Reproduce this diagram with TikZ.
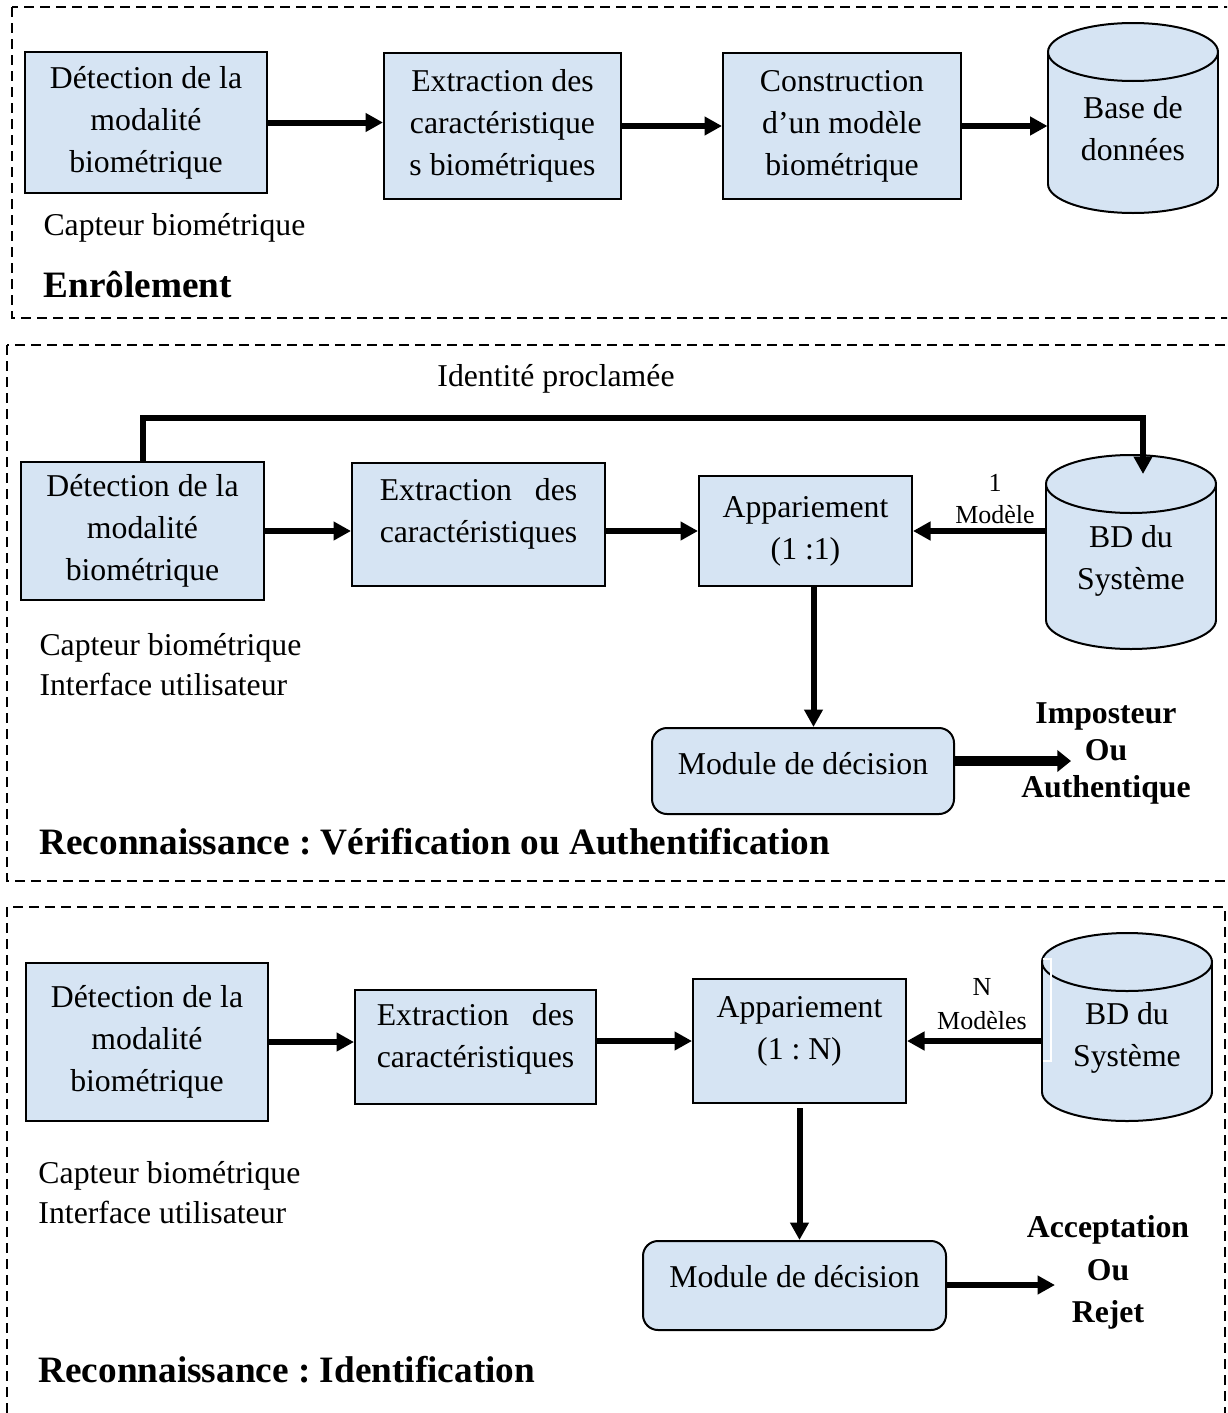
\documentclass[tikz,border=0pt]{standalone}
\usepackage{fontspec}
\setmainfont{Liberation Serif}
\usepackage{xcolor}
\usetikzlibrary{arrows.meta}
\frenchspacing
\definecolor{fondbleu}{RGB}{214,228,243}
\newcommand{\pxl}{0.4pt}
\newcommand{\bas}[1]{\rule[-#1]{0pt}{0pt}}
% base de donnees : x centre, y ellipse haut, y ellipse bas
\newcommand{\cylindre}[3]{%
  \draw[trait, fill=fondbleu] (#1,#3) ellipse [x radius=85, y radius=29];
  \fill[fondbleu] (#1-85,#2) rectangle (#1+85,#3);
  \draw[trait] (#1-85,#2) -- (#1-85,#3) (#1+85,#2) -- (#1+85,#3);
  \draw[trait, fill=fondbleu] (#1,#2) ellipse [x radius=85, y radius=29];
}
\tikzset{
  trait/.style={line width=0.8pt, black},
  boite/.style={trait, draw, fill=fondbleu, align=center, inner sep=0pt,
    font=\fontsize{12.7}{16.8}\selectfont},
  decision/.style={boite, rounded corners=6pt},
  bdtexte/.style={align=center, inner sep=0pt, minimum width=170*\pxl,
    font=\fontsize{12.7}{16.8}\selectfont},
  texte/.style={inner sep=0pt, font=\fontsize{12.7}{14.4}\selectfont},
  petit/.style={inner sep=0pt, font=\fontsize{10.4}{12}\selectfont},
  titre/.style={inner sep=0pt, anchor=west, font=\fontsize{14.9}{17}\selectfont\bfseries},
  fleche/.style={line width=2.4pt, -{Triangle[length=7pt,width=7.2pt]}},
  flechegrosse/.style={line width=4pt, -{Triangle[length=5.5pt,width=8.5pt]}},
  cadre/.style={line width=0.8pt, dash pattern=on 4pt off 2.4pt},
}

\begin{document}
\begin{tikzpicture}[x=0.4pt,y=-0.4pt]
\useasboundingbox (0,0) rectangle (1227,1413);
\clip (0,0) rectangle (1227,1413);

%%%%-----------Cadres-------------%%%%
\draw[cadre] (12,7) rectangle (1240,318)		;
\draw[cadre] (7,345) rectangle (1240,881)		;
\draw[cadre] (7,907) rectangle (1225,1425)		;

%%%----------Enrolement---------%%%
\node[boite, minimum width=242*\pxl, minimum height=141*\pxl] (det1) at (146,122.5) {Détection de la\\modalité\\biométrique};
\node[boite, minimum width=237*\pxl, minimum height=146*\pxl] (ext1) at (502.5,126) {Extraction des\\caractéristique\\s biométriques};
\node[boite, minimum width=238*\pxl, minimum height=146*\pxl] (cons1) at (842,126) {Construction\\d’un modèle\\biométrique};
\cylindre{1133}{52}{184}
\node[bdtexte] (bd1) at (1133,128.5) {Base de\\données};

\draw[fleche] (det1.east) -- (det1.east -| ext1.west)		;
\draw[fleche] (ext1.east) -- (ext1.east -| cons1.west)		;
\draw[fleche] (cons1.east) -- (cons1.east -| bd1.west)		;

\node[texte, anchor=west] (capt1) at (43,228) {Capteur biométrique};
\node[titre] (titre1) at (43,285) {Enrôlement};

%%%----------Verification---------%%%
\node[boite, minimum width=243*\pxl, minimum height=138*\pxl] (det2) at (142.5,531) {Détection de la\\modalité\\biométrique};
\node[boite, minimum width=253*\pxl, minimum height=123*\pxl, text width=79pt, align=left] (ext2) at (478.5,524.5) {Extraction\hfill des\\caractéristiques\bas{11.6pt}};
\node[boite, minimum width=213*\pxl, minimum height=110*\pxl] (app2) at (805.5,531) {Appariement\\(1 :1)};
\cylindre{1131}{484}{620}
\node[bdtexte] (bd2) at (1131,561) {BD du\\Système};
\node[decision, minimum width=302*\pxl, minimum height=86*\pxl] (dec2) at (803,771) {Module de décision\bas{6.4pt}};

\coordinate (haut) at (0,418);
\coordinate (entree2) at (1143,474);
\coordinate (sortie2) at (1071,761);

\node[texte] (ident) at (556,379) {Identité proclamée};
\node[petit] (un) at (995,483) {1};
\node[petit] (modele) at (995,515) {Modèle};

\draw[fleche] (det2.north) -- (det2.north |- haut) -| (entree2)		;
\draw[fleche] (det2.east) -- (det2.east -| ext2.west)		;
\draw[fleche] (ext2.east |- app2.west) -- (app2.west)		;
\draw[fleche] (bd2.west |- app2.east) -- (app2.east)		;
\draw[fleche] ([xshift=8*\pxl]app2.south) -- ([xshift=8*\pxl]app2.south |- dec2.north)		;
\draw[flechegrosse] (dec2.east |- sortie2) -- (sortie2)		;

\node[inner sep=0pt, align=center, font=\fontsize{12.7}{14.8}\selectfont\bfseries] (res2) at (1106,753) {Imposteur\\Ou\\Authentique};

\node[texte, anchor=west] (capt2) at (39,648) {Capteur biométrique};
\node[texte, anchor=west] (inter2) at (39,684) {Interface utilisateur};
\node[titre] (titre2) at (39,842) {Reconnaissance : Vérification ou Authentification};

%%%----------Identification---------%%%
\node[boite, minimum width=242*\pxl, minimum height=158*\pxl] (det3) at (147,1042) {Détection de la\\modalité\\biométrique};
\node[boite, minimum width=241*\pxl, minimum height=114*\pxl, text width=79pt, align=left] (ext3) at (475.5,1047) {Extraction\hfill des\\caractéristiques\bas{9.2pt}};
\node[boite, minimum width=213*\pxl, minimum height=124*\pxl] (app3) at (799.5,1041) {Appariement\\(1 : N)\bas{10.7pt}};
\cylindre{1127}{962}{1092}
\draw[white, line width=0.6pt] (1043,959) -- (1051,959) -- (1051,1061) -- (1043,1061);
\node[bdtexte] (bd3) at (1127,1037.5) {BD du\\Système};
\node[decision, minimum width=303*\pxl, minimum height=89*\pxl] (dec3) at (794.5,1285.5) {Module de décision\bas{7.6pt}};

\coordinate (sortie3) at (1055,1285);

\node[petit] (n) at (982,987) {N};
\node[petit] (modeles) at (982,1021) {Modèles};

\draw[fleche] (det3.east) -- (det3.east -| ext3.west)		;
\draw[fleche] (ext3.east |- app3.west) -- (app3.west)		;
\draw[fleche] (bd3.west |- app3.east) -- (app3.east)		;
\draw[fleche] ([yshift=-4*\pxl]app3.south) -- (app3.south |- dec3.north)		;
\draw[fleche] (dec3.east |- sortie3) -- (sortie3)		;

\node[inner sep=0pt, align=center, font=\fontsize{12.7}{17}\selectfont\bfseries] (res3) at (1108,1272.5) {Acceptation\\Ou\\Rejet};

\node[texte, anchor=west] (capt3) at (38,1176) {Capteur biométrique};
\node[texte, anchor=west] (inter3) at (38,1212) {Interface utilisateur};
\node[titre] (titre3) at (38,1370) {Reconnaissance : Identification};

\end{tikzpicture}
\end{document}
